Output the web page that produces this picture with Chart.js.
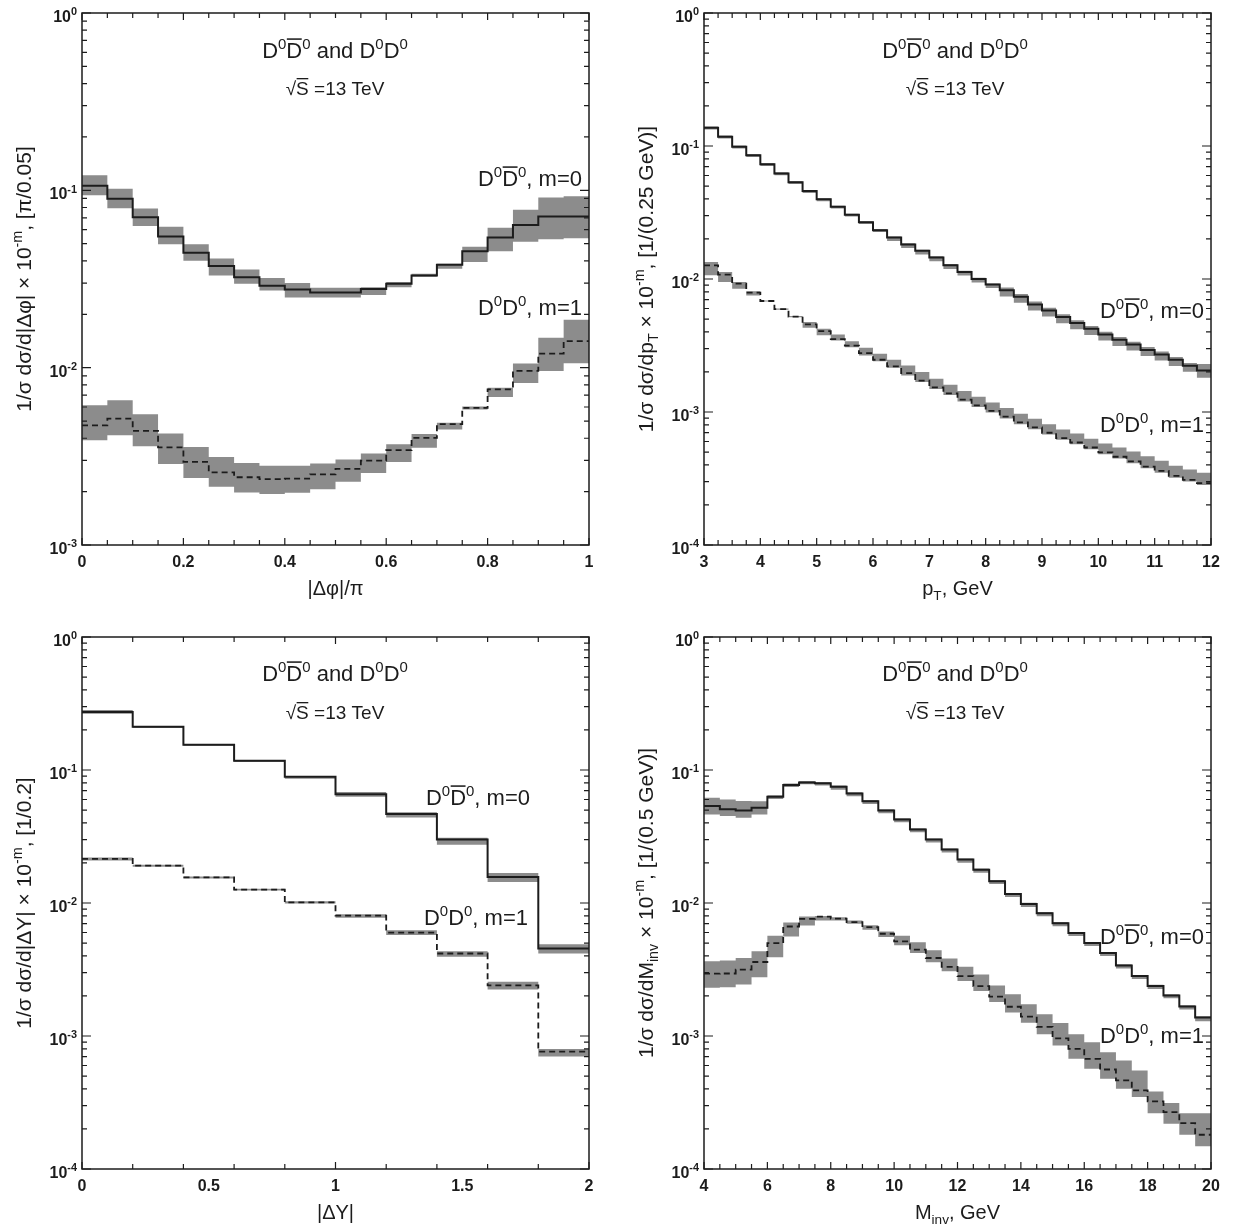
<!DOCTYPE html>
<html>
<head>
<meta charset="utf-8">
<script src="https://cdn.jsdelivr.net/npm/chart.js@4.4.1/dist/chart.umd.min.js"></script>
<style>
    body { margin: 0; background: #fff; }
    canvas { position: absolute; }
</style>
</head>
<body>
<canvas id="c_phi" width="618" height="615" style="left:0;top:0"></canvas>
<canvas id="c_pt" width="618" height="615" style="left:618px;top:0"></canvas>
<canvas id="c_dy" width="618" height="615" style="left:0;top:615px"></canvas>
<canvas id="c_m" width="618" height="615" style="left:618px;top:615px"></canvas>
<script>

// |dphi|/pi bins
const phiEdges = [ 0, 0.05, 0.1, 0.15, 0.2, 0.25, 0.3, 0.35, 0.4, 0.45, 0.5, 0.55, 0.6, 0.65, 0.7, 0.75, 0.8, 0.85, 0.9, 0.95, 1 ];
const phiTicks = [ 0, 0.2, 0.4, 0.6, 0.8, 1 ];
const phiM0   = [ 0.106, 0.0897, 0.0705, 0.055, 0.0444, 0.0374, 0.0323, 0.029, 0.0276, 0.0265, 0.0265, 0.0278, 0.0297, 0.0331, 0.0381, 0.0454, 0.0542, 0.0638, 0.0711, 0.0711 ];
const phiM0Hi = [ 0.1216, 0.102, 0.079, 0.0624, 0.0497, 0.0412, 0.0358, 0.032, 0.030, 0.0282, 0.0282, 0.0284, 0.0304, 0.0338, 0.0386, 0.048, 0.0616, 0.0776, 0.0912, 0.0925 ];
const phiM0Lo = [ 0.0937, 0.0793, 0.063, 0.0497, 0.0401, 0.0331, 0.0297, 0.0272, 0.0249, 0.0249, 0.0249, 0.0257, 0.0284, 0.0326, 0.0361, 0.0394, 0.0454, 0.0513, 0.053, 0.0536 ];
const phiM1   = [ 0.00473, 0.00516, 0.0044, 0.00355, 0.00294, 0.00257, 0.00241, 0.00235, 0.00237, 0.0025, 0.00269, 0.00299, 0.00343, 0.00402, 0.0048, 0.00593, 0.00755, 0.00958, 0.012, 0.0141 ];
const phiM1Hi = [ 0.00614, 0.00655, 0.00546, 0.00426, 0.00357, 0.00314, 0.0029, 0.0028, 0.0028, 0.00288, 0.00303, 0.00328, 0.0037, 0.00422, 0.00489, 0.00603, 0.0077, 0.01054, 0.01476, 0.0186 ];
const phiM1Lo = [ 0.0039, 0.00416, 0.00361, 0.00286, 0.00239, 0.00213, 0.00198, 0.00194, 0.00197, 0.00206, 0.00227, 0.00255, 0.00294, 0.00353, 0.00448, 0.0058, 0.00684, 0.0082, 0.00958, 0.0106 ];

// pT bins
const ptEdges = [ 3, 3.25, 3.5, 3.75, 4, 4.25, 4.5, 4.75, 5, 5.25, 5.5, 5.75, 6, 6.25, 6.5, 6.75, 7, 7.25, 7.5, 7.75, 8, 8.25, 8.5, 8.75, 9, 9.25, 9.5, 9.75, 10, 10.25, 10.5, 10.75, 11, 11.25, 11.5, 11.75, 12 ];
const ptTicks = [ 3, 4, 5, 6, 7, 8, 9, 10, 11, 12 ];
const ptM0   = [ 0.1374, 0.1175, 0.0989, 0.0851, 0.0728, 0.0622, 0.0533, 0.0458, 0.0397, 0.0349, 0.0304, 0.0267, 0.0233, 0.0205, 0.0182, 0.0163, 0.0145, 0.0127, 0.0113, 0.0100, 0.00909, 0.00822, 0.00735, 0.00644, 0.0058, 0.00517, 0.00466, 0.00422, 0.00383, 0.00349, 0.00322, 0.00293, 0.00271, 0.00247, 0.00223, 0.00205 ];
const ptM0Hi = [ 0.1401, 0.1199, 0.1009, 0.0868, 0.0743, 0.0634, 0.0544, 0.0467, 0.0405, 0.0356, 0.0310, 0.0272, 0.0238, 0.0209, 0.0186, 0.0166, 0.0148, 0.01295, 0.01153, 0.0102, 0.00927, 0.00863, 0.00772, 0.00676, 0.00609, 0.00543, 0.00489, 0.00443, 0.00402, 0.00366, 0.00338, 0.00308, 0.00285, 0.00259, 0.00234, 0.0023 ];
const ptM0Lo = [ 0.1333, 0.114, 0.0959, 0.0825, 0.0706, 0.0603, 0.0517, 0.0444, 0.0385, 0.0339, 0.0295, 0.0259, 0.0226, 0.0193, 0.0171, 0.0153, 0.0136, 0.0119, 0.01062, 0.0094, 0.00854, 0.0074, 0.00662, 0.0058, 0.00522, 0.00465, 0.00419, 0.0038, 0.00345, 0.00314, 0.0029, 0.00264, 0.00244, 0.00222, 0.00201, 0.00181 ];
const ptM1   = [ 0.01268, 0.01079, 0.00922, 0.00789, 0.00683, 0.00594, 0.00521, 0.00456, 0.00406, 0.00353, 0.00315, 0.00277, 0.00247, 0.0022, 0.00196, 0.00172, 0.00153, 0.00138, 0.00124, 0.00112, 0.00102, 0.000922, 0.000836, 0.000766, 0.000698, 0.000637, 0.00059, 0.000541, 0.000497, 0.000461, 0.000425, 0.000389, 0.000361, 0.000331, 0.000309, 0.000292 ];
const ptM1Hi = [ 0.01343, 0.01129, 0.00949, 0.0081, 0.0069, 0.006, 0.00526, 0.00474, 0.00423, 0.00383, 0.00341, 0.00304, 0.00274, 0.00247, 0.00224, 0.002, 0.00178, 0.0016, 0.00144, 0.0013, 0.00118, 0.00107, 0.00097, 0.00089, 0.00081, 0.00074, 0.00069, 0.00063, 0.00058, 0.00054, 0.000505, 0.000465, 0.00043, 0.000395, 0.00037, 0.00035 ];
const ptM1Lo = [ 0.01066, 0.00949, 0.00846, 0.0075, 0.00676, 0.00588, 0.00516, 0.0043, 0.00377, 0.00345, 0.00307, 0.00266, 0.00241, 0.00215, 0.00188, 0.00168, 0.00149, 0.00134, 0.0012, 0.00109, 0.00099, 0.000895, 0.00081, 0.000743, 0.000677, 0.000618, 0.000572, 0.000525, 0.000482, 0.000447, 0.000412, 0.000377, 0.00035, 0.000321, 0.0003, 0.000283 ];

// |dY| bins
const dyEdges = [ 0, 0.2, 0.4, 0.6, 0.8, 1, 1.2, 1.4, 1.6, 1.8, 2 ];
const dyTicks = [ 0, 0.5, 1, 1.5, 2 ];
const dyM0   = [ 0.2735, 0.211, 0.155, 0.1175, 0.0891, 0.0656, 0.0466, 0.030, 0.0157, 0.00454 ];
const dyM0Hi = [ 0.283, 0.214, 0.157, 0.119, 0.090, 0.0683, 0.0482, 0.0309, 0.0168, 0.0049 ];
const dyM0Lo = [ 0.265, 0.207, 0.152, 0.115, 0.086, 0.063, 0.044, 0.0274, 0.0144, 0.00418 ];
const dyM1   = [ 0.0215, 0.0191, 0.0156, 0.0126, 0.0101, 0.00803, 0.00599, 0.00417, 0.0024, 0.000763 ];
const dyM1Hi = [ 0.022, 0.0194, 0.0158, 0.0128, 0.0103, 0.00822, 0.00624, 0.00434, 0.002555, 0.000798 ];
const dyM1Lo = [ 0.0209, 0.0187, 0.0153, 0.0124, 0.0099, 0.00776, 0.00575, 0.00394, 0.00224, 0.0007 ];

// Minv bins
const mEdges = [ 4, 4.5, 5, 5.5, 6, 6.5, 7, 7.5, 8, 8.5, 9, 9.5, 10, 10.5, 11, 11.5, 12, 12.5, 13, 13.5, 14, 14.5, 15, 15.5, 16, 16.5, 17, 17.5, 18, 18.5, 19, 19.5, 20 ];
const mTicks = [ 4, 6, 8, 10, 12, 14, 16, 18, 20 ];
const mM0   = [ 0.0536, 0.0506, 0.0497, 0.052, 0.063, 0.0771, 0.0807, 0.0794, 0.0748, 0.0667, 0.0583, 0.0497, 0.0425, 0.0357, 0.030, 0.0252, 0.0212, 0.0178, 0.0146, 0.0117, 0.00984, 0.00838, 0.00705, 0.00594, 0.005, 0.00421, 0.00339, 0.00282, 0.00238, 0.00202, 0.00167, 0.00138 ];
const mM0Hi = [ 0.0618, 0.0601, 0.0584, 0.0583, 0.0645, 0.079, 0.0825, 0.081, 0.0765, 0.068, 0.0595, 0.0507, 0.0434, 0.0364, 0.0306, 0.0257, 0.0216, 0.0182, 0.0149, 0.0119, 0.01004, 0.00855, 0.00719, 0.00606, 0.0051, 0.00429, 0.00346, 0.00288, 0.00243, 0.00206, 0.0017, 0.00141 ];
const mM0Lo = [ 0.0463, 0.045, 0.0437, 0.0463, 0.0605, 0.0745, 0.078, 0.0765, 0.071, 0.0635, 0.0555, 0.0473, 0.0404, 0.034, 0.0285, 0.024, 0.0201, 0.0169, 0.0139, 0.0111, 0.00935, 0.00796, 0.0067, 0.00564, 0.00475, 0.004, 0.00322, 0.00268, 0.00226, 0.00192, 0.00158, 0.00129 ];
const mM1   = [ 0.00294, 0.00295, 0.00316, 0.0036, 0.005, 0.00666, 0.0076, 0.0079, 0.00764, 0.00718, 0.00658, 0.00587, 0.00514, 0.00446, 0.00386, 0.00331, 0.00282, 0.00237, 0.00198, 0.00166, 0.0014, 0.00117, 0.00096, 0.0008, 0.000673, 0.00056, 0.000464, 0.00039, 0.000322, 0.000268, 0.000221, 0.000181 ];
const mM1Hi = [ 0.00365, 0.00369, 0.00386, 0.00434, 0.00567, 0.00713, 0.0079, 0.008, 0.0078, 0.00738, 0.0068, 0.00611, 0.00567, 0.00506, 0.00441, 0.00382, 0.00331, 0.0029, 0.0024, 0.00206, 0.00173, 0.00146, 0.00125, 0.00103, 0.000897, 0.000755, 0.000655, 0.00055, 0.000382, 0.000313, 0.000263, 0.000263 ];
const mM1Lo = [ 0.00231, 0.00233, 0.00244, 0.00277, 0.00391, 0.00561, 0.00677, 0.00738, 0.00738, 0.00697, 0.00629, 0.00554, 0.00481, 0.00421, 0.00359, 0.00307, 0.00259, 0.00218, 0.0018, 0.0015, 0.00126, 0.00103, 0.000847, 0.000673, 0.000568, 0.000478, 0.000402, 0.000348, 0.000263, 0.000219, 0.000181, 0.000148 ];

const decades3 = [ 0.001, 0.01, 0.1, 1 ];
const decades4 = [ 0.0001, 0.001, 0.01, 0.1, 1 ];

const FONT = '"Liberation Sans", Arial, sans-serif';
const INK = '#1c1c1c';
const BAND = 'rgb( 140 140 140 )';

// label pieces
const T_TITLE = [ { t: 'D' }, { t: '0', sup: 1 }, { t: 'D', bar: 1 }, { t: '0', sup: 1 }, { t: ' and D' }, { t: '0', sup: 1 }, { t: 'D' }, { t: '0', sup: 1 } ];
const T_SQRT = [ { t: '\u221A' }, { t: 'S', bar: 1 }, { t: ' =13 TeV' } ];
const T_M0 = [ { t: 'D' }, { t: '0', sup: 1 }, { t: 'D', bar: 1 }, { t: '0', sup: 1 }, { t: ', m=0' } ];
const T_M1 = [ { t: 'D' }, { t: '0', sup: 1 }, { t: 'D' }, { t: '0', sup: 1 }, { t: ', m=1' } ];

/**
 * draw text with sup / sub / overbar pieces
 */
function rich_text( ctx, segs, x, y, size, align, bold ) {

    let f = ( s ) => ( bold ? 'bold ' : '' ) + s + 'px ' + FONT,
        parts = segs.map( s => ( { ...s, fs: ( s.sup || s.sub ) ? size * 0.68 : size } ) ),
        w = 0;

    parts.forEach( p => {
        ctx.font = f( p.fs );
        p.w = ctx.measureText( p.t ).width;
        w += p.w;
    } );

    let cx = align === 'right' ? x - w : ( align === 'center' ? x - w / 2 : x );

    ctx.textAlign = 'left';
    ctx.textBaseline = 'alphabetic';
    ctx.fillStyle = INK;
    ctx.strokeStyle = INK;

    parts.forEach( p => {
        let dy = p.sup ? - size * 0.42 : ( p.sub ? size * 0.24 : 0 );
        ctx.font = f( p.fs );
        ctx.fillText( p.t, cx, y + dy );
        if( p.bar ) {
            ctx.beginPath();
            ctx.lineWidth = Math.max( 1, size * 0.07 );
            ctx.moveTo( cx + 0.5, y - size * 0.86 );
            ctx.lineTo( cx + p.w - 0.5, y - size * 0.86 );
            ctx.stroke();
        }
        cx += p.w;
    } );

};

/**
 * histogram points, one per left bin edge plus the closing edge
 */
function hist( edges, vals ) {

    let pts = vals.map( ( v, i ) => ( { x: edges[ i ], y: v } ) );
    pts.push( { x: edges[ edges.length - 1 ], y: vals[ vals.length - 1 ] } );
    return pts;

};

function step_set( edges, vals, extra ) {

    return Object.assign( {
        data: hist( edges, vals ),
        stepped: true,
        pointRadius: 0,
        borderColor: 'rgba( 0 0 0 / 0 )',
        borderWidth: 1,
        fill: false
    }, extra );

};

/**
 * frame, inward ticks, tick labels and texts
 */
function deco( p ) {

    return {
        id: 'deco',
        afterDraw( chart ) {
            let ctx = chart.ctx, a = chart.chartArea,
                xs = chart.scales.x, ys = chart.scales.y;

            ctx.save();
            ctx.strokeStyle = INK;
            ctx.lineWidth = 1.5;
            ctx.strokeRect( a.left, a.top, a.right - a.left, a.bottom - a.top );

            ctx.lineWidth = 1.2;
            ctx.beginPath();
            p.edges.forEach( e => {
                let px = xs.getPixelForValue( e ),
                    len = p.xTicks.includes( e ) ? 7 : 5;
                ctx.moveTo( px, a.bottom ); ctx.lineTo( px, a.bottom - len );
                ctx.moveTo( px, a.top ); ctx.lineTo( px, a.top + len );
            } );
            p.yTicks.forEach( ( d, i ) => {
                let py = ys.getPixelForValue( d );
                ctx.moveTo( a.left, py ); ctx.lineTo( a.left + 9, py );
                ctx.moveTo( a.right, py ); ctx.lineTo( a.right - 9, py );
                if( i < p.yTicks.length - 1 ) {
                    for( let k = 2; k <= 9; k++ ) {
                        let qy = ys.getPixelForValue( d * k );
                        ctx.moveTo( a.left, qy ); ctx.lineTo( a.left + 5, qy );
                        ctx.moveTo( a.right, qy ); ctx.lineTo( a.right - 5, qy );
                    }
                }
            } );
            ctx.stroke();

            p.yTicks.forEach( d => {
                let py = ys.getPixelForValue( d ),
                    e = Math.round( Math.log10( d ) );
                rich_text( ctx, [ { t: '10' }, { t: String( e ), sup: 1 } ], a.left - 5, py + 9, 16, 'right', true );
            } );

            let mid = ( a.left + a.right ) / 2;
            rich_text( ctx, T_TITLE, p.title[0], p.title[1] + 8, 22, 'center' );
            rich_text( ctx, T_SQRT, p.sqrt[0], p.sqrt[1] + 7, 19, 'center' );
            rich_text( ctx, T_M0, p.lab0[0], p.lab0[1] + 8, 22, 'right' );
            rich_text( ctx, T_M1, p.lab1[0], p.lab1[1] + 8, 22, 'right' );
            rich_text( ctx, p.xTitle, mid, p.xTitleY + 7, 20, 'center' );

            ctx.translate( p.yTitleX + 7, ( a.top + a.bottom ) / 2 );
            ctx.rotate( - Math.PI / 2 );
            rich_text( ctx, p.yTitle, 0, 0, 21, 'center' );
            ctx.restore();
        }
    };

};

function panel( id, p ) {

    let ctx = document.getElementById( id ).getContext( '2d' );

    return new Chart( ctx, {
        type: 'line',
        data: {
            datasets: [
                step_set( p.edges, p.m0, { borderColor: INK, borderWidth: 2 } ),
                step_set( p.edges, p.m1, { borderColor: INK, borderWidth: 1.8, borderDash: [ 6, 4 ] } ),
                step_set( p.edges, p.m0Hi ),
                step_set( p.edges, p.m0Lo, { fill: 2, backgroundColor: BAND } ),
                step_set( p.edges, p.m1Hi ),
                step_set( p.edges, p.m1Lo, { fill: 4, backgroundColor: BAND } )
            ]
        },
        options: {
            responsive: false,
            animation: false,
            events: [],
            layout: {
                padding: { left: 0, top: p.top, right: p.right, bottom: 0 }
            },
            plugins: {
                legend: { display: false },
                tooltip: { enabled: false }
            },
            scales: {
                x: {
                    type: 'linear',
                    min: p.edges[0],
                    max: p.edges[ p.edges.length - 1 ],
                    grid: { display: false, drawTicks: false },
                    border: { display: false },
                    ticks: {
                        autoSkip: false,
                        maxRotation: 0,
                        padding: 8,
                        color: INK,
                        font: { family: FONT, size: 16, weight: 'bold' },
                        callback: ( v ) => String( v )
                    },
                    afterBuildTicks: ( s ) => { s.ticks = p.xTicks.map( v => ( { value: v } ) ); },
                    afterFit: ( s ) => { s.height = p.bottom; }
                },
                y: {
                    type: 'logarithmic',
                    min: p.yTicks[0],
                    max: 1,
                    grid: { display: false, drawTicks: false },
                    border: { display: false },
                    ticks: { display: false },
                    afterBuildTicks: ( s ) => { s.ticks = p.yTicks.map( v => ( { value: v } ) ); },
                    afterFit: ( s ) => { s.width = p.left; }
                }
            }
        },
        plugins: [ deco( p ) ]
    } );

};

panel( 'c_phi', {
    edges: phiEdges, xTicks: phiTicks, yTicks: decades3,
    m0: phiM0, m0Hi: phiM0Hi, m0Lo: phiM0Lo, m1: phiM1, m1Hi: phiM1Hi, m1Lo: phiM1Lo,
    left: 82, right: 29, top: 13, bottom: 70,
    title: [ 335, 50 ], sqrt: [ 335, 88 ], lab0: [ 582, 178 ], lab1: [ 582, 307 ],
    xTitle: [ { t: '|\u0394\u03C6|/\u03C0' } ], xTitleY: 588,
    yTitle: [ { t: '1/\u03C3 d\u03C3/d|\u0394\u03C6| \u00D7 10' }, { t: '-m', sup: 1 }, { t: ', [\u03C0/0.05]' } ], yTitleX: 24
} );

panel( 'c_pt', {
    edges: ptEdges, xTicks: ptTicks, yTicks: decades4,
    m0: ptM0, m0Hi: ptM0Hi, m0Lo: ptM0Lo, m1: ptM1, m1Hi: ptM1Hi, m1Lo: ptM1Lo,
    left: 86, right: 25, top: 13, bottom: 70,
    title: [ 337, 50 ], sqrt: [ 337, 88 ], lab0: [ 586, 310 ], lab1: [ 586, 424 ],
    xTitle: [ { t: 'p' }, { t: 'T', sub: 1 }, { t: ', GeV' } ], xTitleY: 588,
    yTitle: [ { t: '1/\u03C3 d\u03C3/dp' }, { t: 'T', sub: 1 }, { t: ' \u00D7 10' }, { t: '-m', sup: 1 }, { t: ', [1/(0.25 GeV)]' } ], yTitleX: 28
} );

panel( 'c_dy', {
    edges: dyEdges, xTicks: dyTicks, yTicks: decades4,
    m0: dyM0, m0Hi: dyM0Hi, m0Lo: dyM0Lo, m1: dyM1, m1Hi: dyM1Hi, m1Lo: dyM1Lo,
    left: 82, right: 29, top: 22, bottom: 61,
    title: [ 335, 58 ], sqrt: [ 335, 97 ], lab0: [ 530, 182 ], lab1: [ 528, 302 ],
    xTitle: [ { t: '|\u0394Y|' } ], xTitleY: 597,
    yTitle: [ { t: '1/\u03C3 d\u03C3/d|\u0394Y| \u00D7 10' }, { t: '-m', sup: 1 }, { t: ', [1/0.2]' } ], yTitleX: 24
} );

panel( 'c_m', {
    edges: mEdges, xTicks: mTicks, yTicks: decades4,
    m0: mM0, m0Hi: mM0Hi, m0Lo: mM0Lo, m1: mM1, m1Hi: mM1Hi, m1Lo: mM1Lo,
    left: 86, right: 25, top: 22, bottom: 61,
    title: [ 337, 58 ], sqrt: [ 337, 97 ], lab0: [ 586, 321 ], lab1: [ 586, 420 ],
    xTitle: [ { t: 'M' }, { t: 'inv', sub: 1 }, { t: ', GeV' } ], xTitleY: 597,
    yTitle: [ { t: '1/\u03C3 d\u03C3/dM' }, { t: 'inv', sub: 1 }, { t: ' \u00D7 10' }, { t: '-m', sup: 1 }, { t: ', [1/(0.5 GeV)]' } ], yTitleX: 28
} );

</script>
</body>
</html>
